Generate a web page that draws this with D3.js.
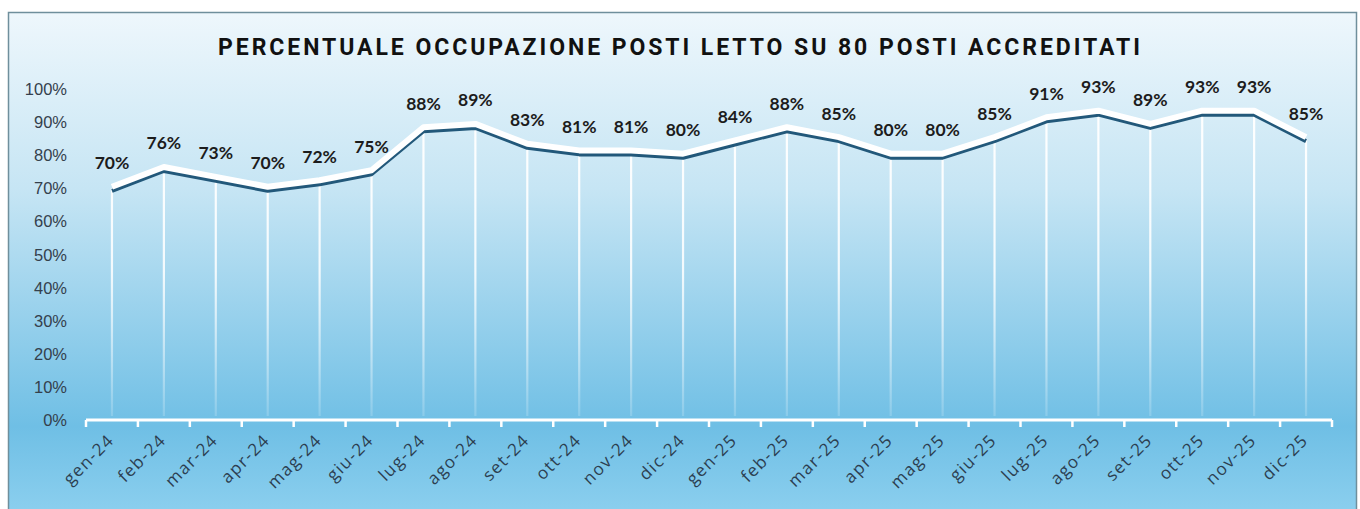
<!DOCTYPE html>
<html>
<head>
<meta charset="utf-8">
<script src="https://cdn.jsdelivr.net/npm/d3@7"></script>
<style>
  body { margin: 0; background: #fff; }
  svg { display: block; }
</style>
</head>
<body>
<svg></svg>
<script>
const mesi = ["gen-24", "feb-24", "mar-24", "apr-24", "mag-24", "giu-24", "lug-24", "ago-24", "set-24", "ott-24", "nov-24", "dic-24",
    "gen-25", "feb-25", "mar-25", "apr-25", "mag-25", "giu-25", "lug-25", "ago-25", "set-25", "ott-25", "nov-25", "dic-25"]
const occupazione = [70, 76, 73, 70, 72, 75, 88, 89, 83, 81, 81, 80, 84, 88, 85, 80, 80, 85, 91, 93, 89, 93, 93, 85]
const yTicks = [0, 10, 20, 30, 40, 50, 60, 70, 80, 90, 100]
const titolo = "PERCENTUALE OCCUPAZIONE POSTI LETTO SU 80 POSTI ACCREDITATI"

const width = 1360
const height = 509
const svg = d3.select('svg')
    .attr("width", width)
    .attr("height", height)

const data = mesi.map((m, i) => ({ mese: m, valore: occupazione[i] }))

// sfondo con gradiente
const defs = svg.append("defs")
const grad = defs.append("linearGradient")
    .attr("id", "sfondo")
    .attr("x1", 0).attr("y1", 0).attr("x2", 0).attr("y2", 1)
grad.append("stop").attr("offset", "0%").attr("stop-color", "#eef7fc")
grad.append("stop").attr("offset", "35%").attr("stop-color", "#c6e5f4")
grad.append("stop").attr("offset", "82%").attr("stop-color", "#6fbfe5")
grad.append("stop").attr("offset", "100%").attr("stop-color", "#8dd0ef")

const dropGrad = defs.append("linearGradient")
    .attr("id", "caduta")
    .attr("gradientUnits", "userSpaceOnUse")
    .attr("x1", 0).attr("y1", 90).attr("x2", 0).attr("y2", 420)
dropGrad.append("stop").attr("offset", "0%").attr("stop-color", "#fff").attr("stop-opacity", 1)
dropGrad.append("stop").attr("offset", "55%").attr("stop-color", "#fff").attr("stop-opacity", 0.85)
dropGrad.append("stop").attr("offset", "100%").attr("stop-color", "#fff").attr("stop-opacity", 0.15)

svg.append("rect")
    .attr("x", 8.5).attr("y", 12.5)
    .attr("width", 1348).attr("height", 505)
    .attr("fill", "url(#sfondo)")
    .attr("stroke", "#6f8f9c")
    .attr("stroke-width", 1.5)

svg.append("text")
    .attr("x", 679)
    .attr("y", 55)
    .attr("text-anchor", "middle")
    .attr("textLength", 922)
    .attr("lengthAdjust", "spacing")
    .style("font-family", "Roboto, 'Liberation Sans'")
    .style("font-weight", "bold")
    .style("font-size", "23px")
    .style("fill", "#111")
    .text(titolo)

const x = d3.scaleBand()
    .domain(mesi)
    .range([86, 1332])

const y = d3.scaleLinear()
    .domain([0, 100])
    .range([420, 89])

// asse y, solo etichette
svg.append("g")
    .selectAll("text")
    .data(yTicks)
    .join("text")
    .attr("x", 67)
    .attr("y", d => y(d) + 6)
    .attr("text-anchor", "end")
    .style("font-family", "'Liberation Sans', Arial")
    .style("font-size", "16.5px")
    .style("fill", "#34404c")
    .text(d => d + "%")

const cx = d => x(d.mese) + x.bandwidth() / 2

// linee verticali
svg.append("g")
    .selectAll("line")
    .data(data)
    .join("line")
    .attr("x1", cx).attr("x2", cx)
    .attr("y1", d => y(d.valore))
    .attr("y2", y(0) - 4)
    .attr("stroke", "url(#caduta)")
    .attr("stroke-width", 2.2)

const linea = d3.line()
    .x(cx)
    .y(d => y(d.valore))

// ombra scura sotto la linea bianca
svg.append("path")
    .datum(data)
    .attr("d", linea)
    .attr("transform", "translate(0,2.5)")
    .attr("fill", "none")
    .attr("stroke", "#22587a")
    .attr("stroke-width", 4)
    .attr("stroke-linejoin", "round")

svg.append("path")
    .datum(data)
    .attr("d", linea)
    .attr("transform", "translate(0,-1.5)")
    .attr("fill", "none")
    .attr("stroke", "#fff")
    .attr("stroke-width", 6)
    .attr("stroke-linejoin", "round")

// asse x
const xAxis = svg.append("g")
    .attr("transform", `translate(0,${y(0)})`)
xAxis.append("line")
    .attr("x1", x.range()[0]).attr("x2", x.range()[1])
    .attr("stroke", "#fff").attr("stroke-width", 3)
xAxis.selectAll(".tick")
    .data(mesi.concat(["fine"]))
    .join("line")
    .attr("class", "tick")
    .attr("x1", (d, i) => x.range()[0] + i * x.step())
    .attr("x2", (d, i) => x.range()[0] + i * x.step())
    .attr("y1", 0).attr("y2", 7)
    .attr("stroke", "#fff").attr("stroke-width", 2.5)

xAxis.selectAll("text")
    .data(mesi)
    .join("text")
    .attr("transform", d => `translate(${x(d) + x.bandwidth() / 2 - 1},17) rotate(-45)`)
    .attr("text-anchor", "end")
    .attr("dy", "0.35em")
    .style("font-family", "'Open Sans', 'DejaVu Sans'")
    .style("font-size", "17px")
    .style("letter-spacing", "1.5px")
    .style("fill", "#2c3e50")
    .text(d => d)

// etichette dati
svg.append("g")
    .selectAll("text")
    .data(data)
    .join("text")
    .attr("x", cx)
    .attr("y", d => y(d.valore) - 19)
    .attr("text-anchor", "middle")
    .style("font-family", "Lato, 'Liberation Sans'")
    .style("font-weight", "bold")
    .style("font-size", "17.5px")
    .style("fill", "#1c1c1c")
    .text(d => d.valore + "%")
</script>
</body>
</html>
